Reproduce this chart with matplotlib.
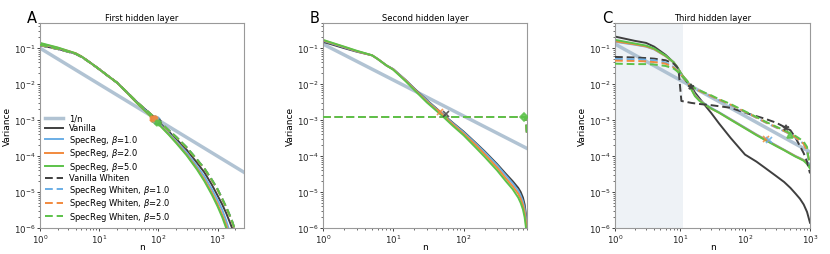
import matplotlib
matplotlib.use("Agg")
import matplotlib.pyplot as plt
import numpy as np

# ---------------- data ----------------
labels = ["Vanilla", "SpecReg, $\\beta$=1.0", "SpecReg, $\\beta$=2.0", "SpecReg, $\\beta$=5.0",
          "Vanilla Whiten", "SpecReg Whiten, $\\beta$=1.0", "SpecReg Whiten, $\\beta$=2.0",
          "SpecReg Whiten, $\\beta$=5.0"]
titles = ["First hidden layer", "Second hidden layer", "Third hidden layer"]
letters = ["A", "B", "C"]

# 1/n reference lines (end points)
A_ref_n = [1, 3000]
A_ref_v = [0.1, 3.3e-5]
B_ref_n = [1, 800]
B_ref_v = [0.13, 1.63e-4]
C_ref_n = [1, 1000]
C_ref_v = [0.13, 1.3e-4]

# Panel A
A_n = [1, 2, 3, 4, 5, 6, 8, 10, 14, 20, 30, 45, 70, 100, 150, 200, 300, 450, 600, 800,
       1000, 1200, 1400, 1600, 1800, 2000, 2200]
A_vanilla = [0.12, 0.095, 0.08, 0.07, 0.058, 0.048, 0.034, 0.026, 0.017, 0.011, 0.0058, 0.003,
             0.0016, 9e-4, 4.8e-4, 3e-4, 1.5e-4, 6.5e-5, 3.5e-5, 1.6e-5, 8e-6, 4.5e-6, 2.6e-6,
             1.5e-6, 9e-7, 5e-7, 2e-7]
A_sr1 = [0.13, 0.1, 0.082, 0.071, 0.058, 0.048, 0.034, 0.026, 0.017, 0.011, 0.0057, 0.0029,
         0.0015, 8.5e-4, 4.3e-4, 2.6e-4, 1.25e-4, 5.2e-5, 2.7e-5, 1.2e-5, 6e-6, 3.2e-6, 1.6e-6,
         8e-7, 3e-7, 1.5e-7, 1e-7]
A_sr2 = [0.135, 0.102, 0.083, 0.072, 0.059, 0.048, 0.034, 0.026, 0.017, 0.011, 0.0056, 0.0028,
         0.0014, 8e-4, 4e-4, 2.4e-4, 1.1e-4, 4.5e-5, 2.2e-5, 9.5e-6, 4.6e-6, 2.3e-6, 1.2e-6,
         6e-7, 2e-7, 1e-7, 1e-7]
A_sr5 = [0.14, 0.104, 0.084, 0.072, 0.059, 0.048, 0.034, 0.026, 0.017, 0.011, 0.0056, 0.0028,
         0.0014, 7.8e-4, 3.9e-4, 2.3e-4, 1.05e-4, 4.2e-5, 2e-5, 8.5e-6, 4e-6, 2e-6, 1e-6,
         5e-7, 2e-7, 1e-7, 1e-7]
A_vw = [0.12, 0.094, 0.079, 0.069, 0.057, 0.047, 0.034, 0.026, 0.017, 0.011, 0.0058, 0.003,
        0.0016, 9.5e-4, 5.2e-4, 3.4e-4, 1.75e-4, 8e-5, 4.5e-5, 2.2e-5, 1.2e-5, 6.5e-6, 3.8e-6,
        2.3e-6, 1.4e-6, 8e-7, 3e-7]
A_sw1 = A_vw
A_sw2 = [0.122, 0.095, 0.08, 0.07, 0.057, 0.047, 0.034, 0.026, 0.017, 0.011, 0.0058, 0.003,
         0.0016, 9.5e-4, 5.1e-4, 3.35e-4, 1.7e-4, 7.8e-5, 4.4e-5, 2.15e-5, 1.15e-5, 6.3e-6,
         3.7e-6, 2.2e-6, 1.35e-6, 7.8e-7, 3e-7]
A_sw5 = [0.125, 0.096, 0.08, 0.07, 0.057, 0.047, 0.034, 0.026, 0.017, 0.011, 0.0058, 0.003,
         0.0016, 9.6e-4, 5.2e-4, 3.4e-4, 1.75e-4, 8e-5, 4.5e-5, 2.2e-5, 1.2e-5, 6.5e-6, 3.8e-6,
         2.3e-6, 1.4e-6, 8e-7, 3e-7]
A_mark_n = [85, 95, 80, 90, 100, 92, 88, 98]
A_mark_v = [1.1e-3, 1.0e-3, 1.1e-3, 9.5e-4, 9e-4, 1.0e-3, 1.05e-3, 8.5e-4]

# Panel B
B_n = [1, 2, 3, 4, 5, 6, 8, 10, 12, 15, 20, 30, 50, 70, 100, 150, 200, 300, 400, 500, 600,
       650, 700, 740, 770, 790, 800]
B_vanilla = [0.15, 0.1, 0.08, 0.07, 0.063, 0.05, 0.033, 0.026, 0.019, 0.013, 0.0075, 0.0036,
             0.0015, 8.5e-4, 4.8e-4, 2.3e-4, 1.35e-4, 6e-5, 3.2e-5, 2e-5, 1.3e-5, 1e-5, 7e-6,
             4.5e-6, 2.5e-6, 1e-6, 5e-7]
B_sr1 = [0.16, 0.105, 0.082, 0.071, 0.063, 0.05, 0.033, 0.026, 0.019, 0.0128, 0.0073, 0.0035,
         0.00145, 8.2e-4, 4.6e-4, 2.2e-4, 1.28e-4, 5.6e-5, 2.9e-5, 1.75e-5, 1.1e-5, 8e-6, 5.5e-6,
         3.5e-6, 2e-6, 8e-7, 4e-7]
B_sr2 = [0.165, 0.108, 0.083, 0.071, 0.063, 0.05, 0.033, 0.0255, 0.0185, 0.0125, 0.0071,
         0.0033, 0.0014, 7.7e-4, 4.2e-4, 2e-4, 1.12e-4, 4.8e-5, 2.4e-5, 1.45e-5, 9e-6, 6.5e-6,
         4.3e-6, 2.7e-6, 1.5e-6, 7e-7, 3e-7]
B_sr5 = [0.17, 0.11, 0.085, 0.072, 0.063, 0.05, 0.033, 0.025, 0.018, 0.012, 0.0068, 0.0031,
         0.0013, 7e-4, 3.8e-4, 1.7e-4, 9.5e-5, 4e-5, 2e-5, 1.2e-5, 7e-6, 5e-6, 3.3e-6, 2e-6,
         1.1e-6, 5e-7, 2e-7]
B_w_n = [1, 100, 720, 760, 800]
B_vw = [1.22e-3, 1.22e-3, 1.22e-3, 1.2e-3, 4e-4]
B_sw1 = [1.22e-3, 1.22e-3, 1.22e-3, 1.2e-3, 4e-4]
B_sw2 = [1.22e-3, 1.22e-3, 1.22e-3, 1.2e-3, 4e-4]
B_sw5 = [1.22e-3, 1.22e-3, 1.22e-3, 1.2e-3, 4e-4]
B_mark_n = [56, 47, 720]
B_mark_v = [1.45e-3, 1.65e-3, 1.2e-3]

# Panel C
C_n = [1, 2, 3, 4, 6, 8, 9, 10, 11, 13, 15, 17, 20, 25, 30, 40, 60, 100, 150, 200, 300, 400,
       500, 600, 700, 800, 900, 1000]
C_vanilla = [0.21, 0.16, 0.14, 0.11, 0.065, 0.04, 0.03, 0.022, 0.016, 0.011, 0.0085, 0.0058,
             0.004, 0.0024, 0.0016, 8e-4, 3.2e-4, 1.1e-4, 7e-5, 4.8e-5, 2.8e-5, 1.9e-5, 1.3e-5,
             9e-6, 6.5e-6, 4.5e-6, 2.8e-6, 1.4e-6]
C_sr1 = [0.15, 0.125, 0.11, 0.092, 0.06, 0.04, 0.03, 0.022, 0.017, 0.012, 0.0075, 0.005,
         0.0036, 0.0027, 0.0022, 0.00165, 0.00107, 6.2e-4, 4e-4, 3e-4, 2e-4, 1.5e-4, 1.2e-4,
         1e-4, 8.8e-5, 7.8e-5, 6.8e-5, 6e-5]
C_sr2 = [0.155, 0.128, 0.112, 0.094, 0.06, 0.04, 0.03, 0.022, 0.017, 0.012, 0.0072, 0.0048,
         0.0035, 0.0026, 0.0021, 0.0016, 0.00104, 6e-4, 3.9e-4, 2.9e-4, 1.95e-4, 1.47e-4,
         1.18e-4, 9.8e-5, 8.6e-5, 7.6e-5, 6.5e-5, 5.5e-5]
C_sr5 = [0.17, 0.135, 0.118, 0.098, 0.062, 0.04, 0.03, 0.022, 0.017, 0.012, 0.007, 0.0046,
         0.0034, 0.0026, 0.0021, 0.0016, 0.00102, 5.9e-4, 3.8e-4, 2.85e-4, 1.9e-4, 1.45e-4,
         1.15e-4, 9.6e-5, 8.4e-5, 7.4e-5, 6e-5, 4.5e-5]
C_vw_n = [1, 2, 3, 4, 6, 8, 9, 9.5, 10.5, 15, 20, 30, 60, 100, 200, 300, 400, 500, 600, 700,
          800, 900, 1000]
C_vw = [0.057, 0.055, 0.053, 0.051, 0.046, 0.037, 0.03, 0.025, 3.4e-3, 3e-3, 2.8e-3, 2.6e-3,
        2.2e-3, 1.6e-3, 1.1e-3, 8.5e-4, 6.5e-4, 5.2e-4, 3.2e-4, 1.9e-4, 1.2e-4, 7e-5, 3.3e-5]
C_sw1 = [0.05, 0.049, 0.048, 0.046, 0.04, 0.03, 0.025, 0.02, 0.016, 0.011, 0.0085, 0.0072,
         0.0064, 0.0053, 0.0046, 0.0036, 0.0026, 0.00165, 1.15e-3, 8.8e-4, 6.2e-4, 4.9e-4,
         4e-4, 3.2e-4, 2.6e-4, 2.2e-4, 1.3e-4, 5e-5]
C_sw2 = [0.045, 0.044, 0.043, 0.041, 0.037, 0.029, 0.024, 0.0195, 0.016, 0.011, 0.0086,
         0.0073, 0.0065, 0.0054, 0.0047, 0.0037, 0.0027, 0.0017, 1.18e-3, 9e-4, 6.4e-4,
         5e-4, 4.1e-4, 3.3e-4, 2.7e-4, 2.2e-4, 1.4e-4, 6e-5]
C_sw5 = [0.037, 0.036, 0.036, 0.035, 0.032, 0.027, 0.023, 0.019, 0.016, 0.0115, 0.009,
         0.0076, 0.0067, 0.0056, 0.0049, 0.0038, 0.0028, 0.00175, 1.22e-3, 9.3e-4, 6.6e-4,
         5.2e-4, 4.3e-4, 3.6e-4, 3e-4, 2.5e-4, 1.8e-4, 4.5e-5]
C_mark_n = [15, 210, 230, 430, 500]
C_mark_v = [8.5e-3, 2.9e-4, 2.8e-4, 6e-4, 3.8e-4]
C_shade = [1, 11]

# ---------------- style ----------------
c_ref = "#a9bdcf"
c_van = "#3f3f3f"
c_b1 = "#6aaee6"
c_b2 = "#f28a3e"
c_b5 = "#5cc24a"
colors = [c_van, c_b1, c_b2, c_b5]

plt.rcParams['font.family'] = ['DejaVu Sans']
plt.rcParams['font.size'] = 6
plt.rcParams['mathtext.fontset'] = 'dejavusans'

fig = plt.figure(figsize=(8.3, 2.55), dpi=100)
W, H = 830.0, 255.0
boxes = [(40, 244), (323, 527), (615, 810)]
top, bottom = 24, 229
axes = []
for (l, r) in boxes:
    ax = fig.add_axes([l / W, 1 - bottom / H, (r - l) / W, (bottom - top) / H])
    axes.append(ax)

panels = [
    dict(ref=(A_ref_n, A_ref_v),
         solid=[(A_n, A_vanilla), (A_n, A_sr1), (A_n, A_sr2), (A_n, A_sr5)],
         dashed=[(A_n, A_vw), (A_n, A_sw1), (A_n, A_sw2), (A_n, A_sw5)],
         marks=(A_mark_n, A_mark_v, ["X"] * 8,
                [c_van, c_b1, c_b2, c_b5, c_van, c_b1, c_b2, c_b5]),
         xlim=(1, 2800)),
    dict(ref=(B_ref_n, B_ref_v),
         solid=[(B_n, B_vanilla), (B_n, B_sr1), (B_n, B_sr2), (B_n, B_sr5)],
         dashed=[(B_w_n, B_vw), (B_w_n, B_sw1), (B_w_n, B_sw2), (B_w_n, B_sw5)],
         marks=(B_mark_n, B_mark_v, ["x", "x", "D"], [c_van, c_b2, c_b5]),
         xlim=(1, 800)),
    dict(ref=(C_ref_n, C_ref_v),
         solid=[(C_n, C_vanilla), (C_n, C_sr1), (C_n, C_sr2), (C_n, C_sr5)],
         dashed=[(C_vw_n, C_vw), (C_n, C_sw1), (C_n, C_sw2), (C_n, C_sw5)],
         marks=(C_mark_n, C_mark_v, ["*", "x", "x", "*", "^"], [c_van, c_b2, c_b1, c_van, c_b5]),
         xlim=(1, 1000)),
]

for i, (ax, p) in enumerate(zip(axes, panels)):
    if i == 2:
        ax.axvspan(C_shade[0], C_shade[1], color="#eef2f6", lw=0, zorder=0)
    ax.plot(p["ref"][0], p["ref"][1], color=c_ref, lw=2.5, alpha=0.9, label="1/n", zorder=1)
    for (xs, ys), c, lab in zip(p["solid"], colors, labels[:4]):
        ax.plot(xs, ys, color=c, lw=1.4, label=lab, zorder=2)
    for (xs, ys), c, lab in zip(p["dashed"], colors, labels[4:]):
        ax.plot(xs, ys, color=c, lw=1.4, ls=(0, (4, 2)), label=lab, zorder=3)
    mn, mv, mk, mc = p["marks"]
    for x, y, m, c in zip(mn, mv, mk, mc):
        ax.plot([x], [y], marker=m, color=c, ms=4, mew=1.2, alpha=0.85, ls="none", zorder=4)
    ax.set_xscale("log")
    ax.set_yscale("log")
    ax.set_xlim(*p["xlim"])
    ax.set_ylim(1e-6, 0.5)
    ax.set_title(titles[i], fontsize=6, pad=2)
    ax.set_xlabel("n", fontsize=6.5, va="top")
    ax.xaxis.set_label_coords(0.5, -0.07)
    ax.set_ylabel("Variance", fontsize=6.5, labelpad=1)
    ax.tick_params(labelsize=6.2, length=2.5, width=0.6, pad=1, colors="#222222")
    ax.tick_params(which="minor", length=1.5, width=0.4)
    for s in ax.spines.values():
        s.set_color("#999999")
        s.set_linewidth(0.8)
    l = boxes[i][0]
    fig.text((l - 13) / W, 1 - 11 / H, letters[i], fontsize=10.5, va="top", ha="left")

axes[0].legend(loc="lower left", frameon=False, fontsize=6, handlelength=2.2,
               handletextpad=0.7, labelspacing=0.06, borderaxespad=0.2,
               bbox_to_anchor=(0.0, 0.0))

fig.savefig("out.png", dpi=100)
